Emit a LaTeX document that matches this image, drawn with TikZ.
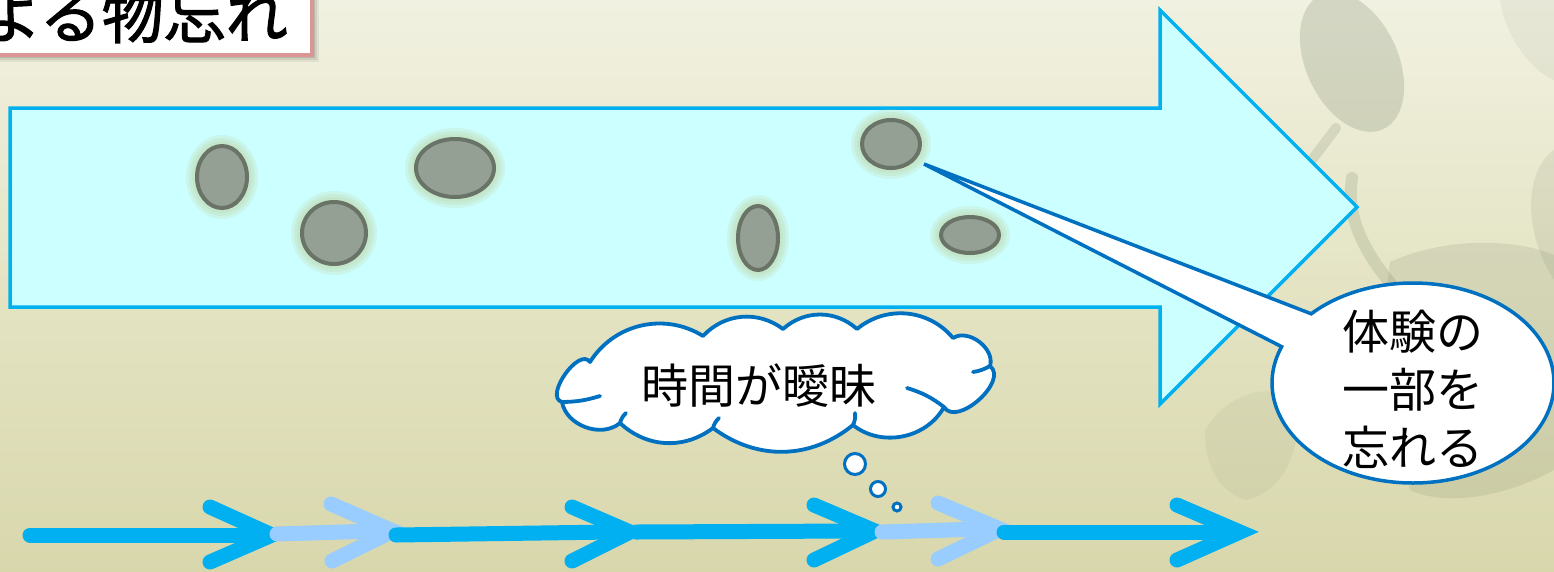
\documentclass[tikz,border=0pt]{standalone}
\usepackage{fontspec}
\newfontfamily\jp{Noto Sans CJK JP}
\newfontfamily\jpbold[FakeBold=1.8]{Noto Sans CJK JP}
\usetikzlibrary{calc,shapes.geometric}
\definecolor{bgtop}{HTML}{F1F1E1}
\definecolor{bgmid}{HTML}{E4E4C4}
\definecolor{bgbot}{HTML}{D8D7AC}
\definecolor{arrowfill}{HTML}{CCFFFF}
\definecolor{arrowline}{HTML}{00B0F0}
\definecolor{calloutline}{HTML}{0070C0}
\definecolor{stonefill}{HTML}{93A093}
\definecolor{stoneline}{HTML}{6A7367}
\definecolor{glowc}{HTML}{BCCB8E}
\definecolor{lightarrow}{HTML}{99CCFF}
\definecolor{titleline}{HTML}{D99694}
\definecolor{leafc}{HTML}{6E7A5E}
\tikzset{
  bigarrow/.style={fill=arrowfill, draw=arrowline, line width=3.5pt, line join=miter},
  stone/.style={ellipse, fill=stonefill, draw=stoneline, line width=4pt, inner sep=0pt},
  calloutshape/.style={fill=white, draw=calloutline, line width=3.5pt, line join=miter},
  cloudline/.style={fill=white, draw=calloutline, line width=3.8pt, line join=round},
  innerarc/.style={draw=calloutline, line width=3.8pt, line cap=round},
  bubble/.style={circle, fill=white, draw=calloutline, line width=3pt, inner sep=0pt},
  shaftdark/.style={draw=arrowline, line width=15pt, line cap=round},
  shaftlight/.style={draw=lightarrow, line width=15pt, line cap=round},
  chevdark/.style={draw=arrowline, line width=15pt, line cap=round, line join=miter, miter limit=10},
  chevlight/.style={draw=lightarrow, line width=15pt, line cap=round, line join=miter, miter limit=10},
  jptext/.style={font=\jp\fontsize{47pt}{58pt}\selectfont, text=black, inner sep=0pt},
  leaf/.style={fill=leafc, opacity=0.16},
}
\begin{document}
\begin{tikzpicture}[x=1pt,y=-1pt]
\useasboundingbox (0,0) rectangle (1554,571);
% background
\shade[top color=bgtop, bottom color=bgbot, middle color=bgmid] (0,0) rectangle (1554,571);
% faint leaves
\fill[leaf, opacity=0.22, rotate around={25:(1352,62)}] (1352,62) ellipse[x radius=46, y radius=74];
\draw[leafc, opacity=0.18, line width=10pt, line cap=round] (1336,128) -- (1308,165);
\draw[leafc, opacity=0.18, line width=12pt, line cap=round] (1352,178) .. controls (1345,220) and (1368,258) .. (1398,292);
\fill[leaf, opacity=0.14] (1390,262) .. controls (1450,235) and (1520,240) .. (1554,255) -- (1554,470) .. controls (1500,500) and (1440,505) .. (1410,490) .. controls (1390,420) and (1380,330) .. cycle;
\fill[leaf, opacity=0.08] (1500,0) -- (1554,0) -- (1554,80) .. controls (1530,70) and (1505,35) .. cycle;
\fill[leaf, opacity=0.12] (1554,150) .. controls (1525,170) and (1522,230) .. (1554,280) -- cycle;
\fill[leaf, opacity=0.08] (1205,430) .. controls (1230,390) and (1275,380) .. (1295,405) .. controls (1305,450) and (1280,495) .. (1245,500) .. controls (1220,490) and (1205,470) .. cycle;
% big arrow
\draw[bigarrow] (10,108) -- (1160,108) -- (1160,10) -- (1357,207) -- (1160,404) -- (1160,307) -- (10,307) -- cycle;
% stones with glow
\foreach \cx/\cy/\rx/\ry/\n in {222/177/25/31/s1, 334/233/32/31/s2, 455/168/39/29/s3, 891/144/29/24/s4, 758/238/20/32/s5, 970/235/29/18/s6}{
  \foreach \g in {11,8,5,2}{
    \fill[glowc, opacity=0.18] (\cx,\cy) ellipse[x radius=\rx+\g, y radius=\ry+\g];
  }
  \node[stone, minimum width=2*\rx pt, minimum height=2*\ry pt] (\n) at (\cx,\cy) {};
}
% callout
\coordinate (ctip) at (924,164);
\draw[calloutshape] (1413,383) ++(223.8:141 and 100) arc[start angle=223.8, end angle=561.3, x radius=141, y radius=100] -- (ctip) -- cycle;
\node[jptext, align=center] (ctext) at (1413,389) {体験の\\一部を\\忘れる};
% cloud
\coordinate (J1) at (590,362);
\coordinate (J2) at (703,336);
\coordinate (J3) at (783,329);
\coordinate (J4) at (857,329);
\coordinate (J5) at (953,338);
\coordinate (J6) at (990,366);
\coordinate (J7) at (944,407);
\coordinate (J8) at (853,425);
\coordinate (J9) at (713,428);
\coordinate (J10) at (620,423);
\coordinate (J11) at (562,402);
\draw[cloudline] (J11) to[bend left=110] (J1) to[bend left=45] (J2) to[bend left=42] (J3) to[bend left=42] (J4) to[bend left=45] (J5) to[bend left=70] (J6) to[bend left=100] (J7) to[bend left=50] (J8) to[bend left=38] (J9) to[bend left=40] (J10) to[bend left=60] (J11) -- cycle;
\draw[innerarc] (J11) to[bend right=8] (600,396);
\draw[innerarc] (J7) to[bend right=10] (907,388);
\draw[innerarc] (J6) to[bend left=10] (973,372);
\draw[innerarc] (J10) to[bend left=15] (626,413);
\draw[innerarc] (J9) to[bend left=15] (719,418);
\draw[innerarc] (J8) to[bend right=15] (855,413);
\node[jptext] (cloudtext) at (759,386) {時間が曖昧};
% thought bubbles
\node[bubble, minimum size=21pt] (b1) at (855,464) {};
\node[bubble, minimum size=15pt] (b2) at (878,489) {};
\node[bubble, minimum size=8pt] (b3) at (897,507) {};
% timeline arrows
\coordinate (t0) at (30,535);
\coordinate (t1) at (272,535);
\coordinate (t1s) at (277,534);
\coordinate (t2) at (393,531);
\coordinate (t2s) at (396,535);
\coordinate (t3) at (630,532);
\coordinate (t3s) at (636,532);
\coordinate (t4) at (875,531);
\coordinate (t4s) at (882,532);
\coordinate (t5) at (1000,529);
\coordinate (t5s) at (1004,532);
\coordinate (t6) at (1240,532);
\draw[shaftdark] (t0) -- ($(t1)+(-18,0)$);
\draw[chevdark] ($(t1)+(-62,-28)$) -- (t1) -- ($(t1)+(-62,27)$);
\draw[shaftlight] (t1s) -- ($(t2)+(-18,0)$);
\draw[chevlight] ($(t2)+(-62,-27)$) -- (t2) -- ($(t2)+(-61,30)$);
\draw[shaftdark] (t2s) -- ($(t3)+(-18,0)$);
\draw[chevdark] ($(t3)+(-58,-25)$) -- (t3) -- ($(t3)+(-58,29)$);
\draw[shaftdark] (t3s) -- ($(t4)+(-18,0)$);
\draw[chevdark] ($(t4)+(-61,-26)$) -- (t4) -- ($(t4)+(-61,29)$);
\draw[shaftlight] (t4s) -- ($(t5)+(-18,0)$);
\draw[chevlight] ($(t5)+(-62,-26)$) -- (t5) -- ($(t5)+(-62,30)$);
\draw[shaftdark] (t5s) -- ($(t6)+(-18,0)$);
\draw[chevdark] ($(t6)+(-63,-27)$) -- (t6) -- ($(t6)+(-63,28)$);
% title box
\foreach \g/\o in {6/0.06,4/0.08,2/0.10}{
  \fill[black, opacity=\o] (-10+\g,-10+\g) rectangle (313+\g,56+\g);
}
\draw[fill=white, draw=titleline, line width=4pt] (-10,-10) rectangle (312,55);
\node[anchor=base east, inner sep=0pt, font=\jpbold\fontsize{62pt}{62pt}\selectfont] (title) at (288,38) {よる物忘れ};
\end{tikzpicture}
\end{document}
